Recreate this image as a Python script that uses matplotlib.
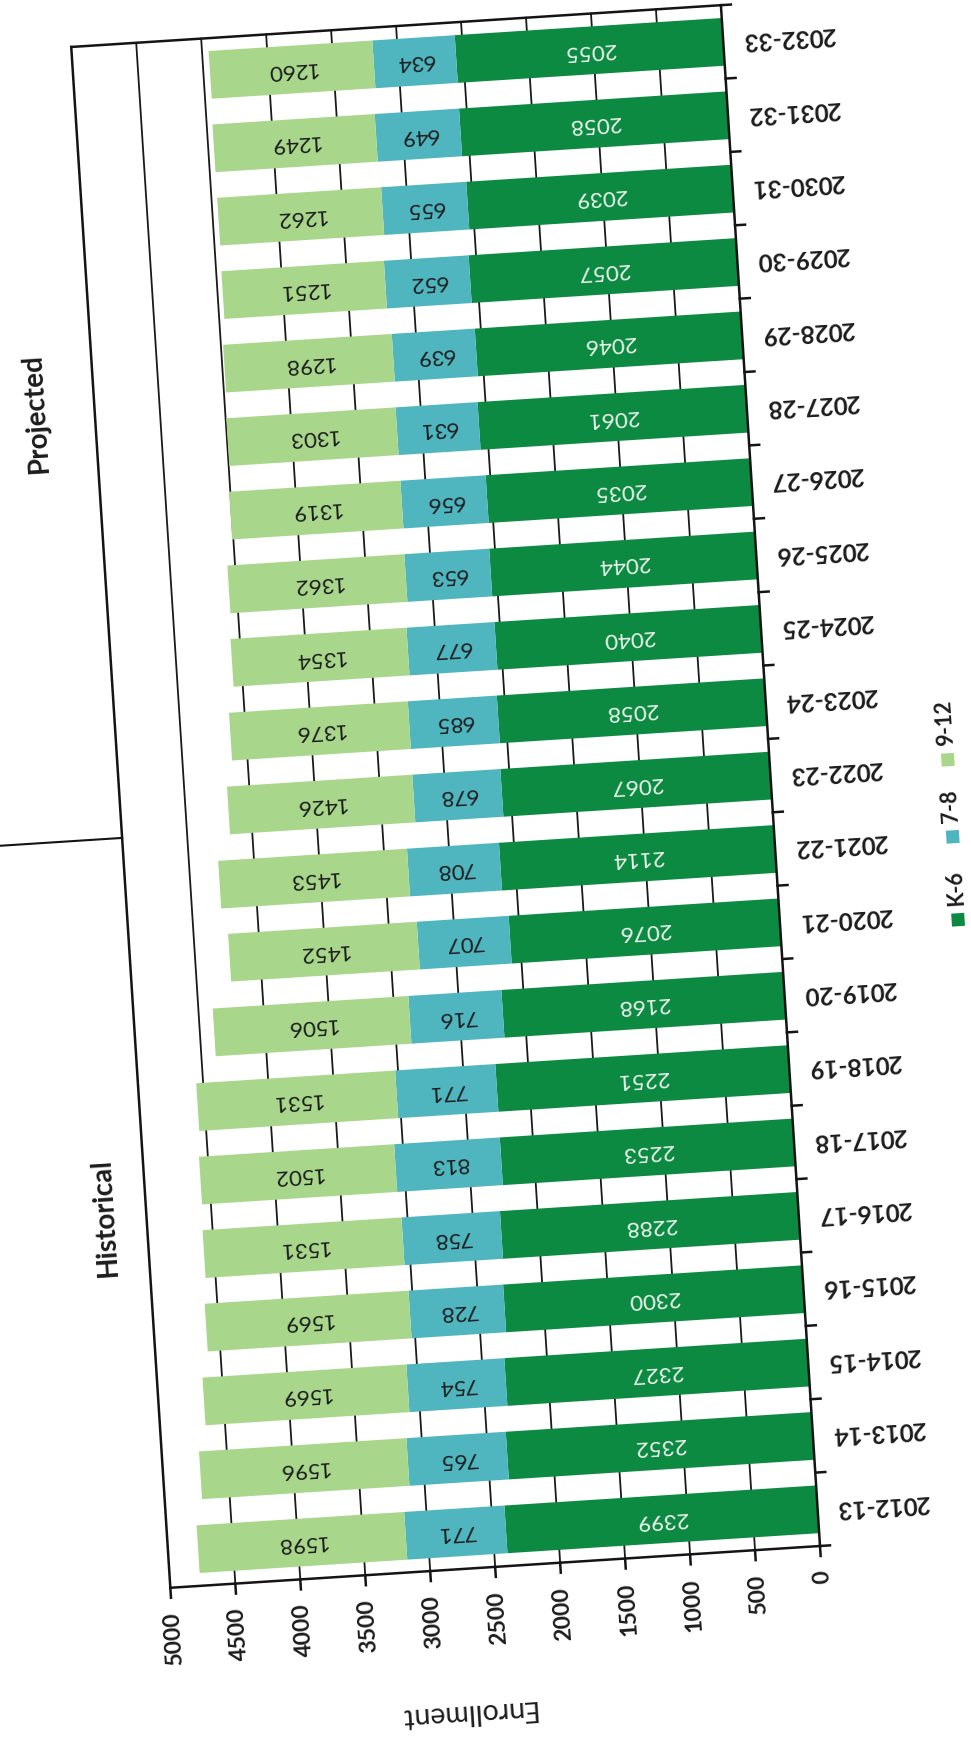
import matplotlib
matplotlib.use("Agg")
import matplotlib.pyplot as plt
from matplotlib.transforms import Affine2D
from matplotlib.patches import Rectangle

# ---- data -------------------------------------------------------------
years = ["2012-13", "2013-14", "2014-15", "2015-16", "2016-17", "2017-18",
         "2018-19", "2019-20", "2020-21", "2021-22", "2022-23", "2023-24",
         "2024-25", "2025-26", "2026-27", "2027-28", "2028-29", "2029-30",
         "2030-31", "2031-32", "2032-33"]
k6 = [2399, 2352, 2327, 2300, 2288, 2253, 2251, 2168, 2076, 2114, 2067,
      2058, 2040, 2044, 2035, 2061, 2046, 2057, 2039, 2058, 2055]
g78 = [771, 765, 754, 728, 758, 813, 771, 716, 707, 708, 678,
       685, 677, 653, 656, 631, 639, 652, 655, 649, 634]
g912 = [1598, 1596, 1569, 1569, 1531, 1502, 1531, 1506, 1452, 1453, 1426,
        1376, 1354, 1362, 1319, 1303, 1298, 1251, 1262, 1249, 1260]
series_names = ["K-6", "7-8", "9-12"]
value_ticks = list(range(0, 5001, 500))

# ---- style ------------------------------------------------------------
COL_K6 = "#0d8a42"
COL_78 = "#4fb5bf"
COL_912 = "#a8d78b"
TXT_DARK = "#1c1c1c"
TXT_LIGHT = "#eef8f0"
FONT = "Lato"
TILT = 3.68          # the whole sheet sits slightly turned
W, H, DPI = 971, 1742, 100

fig = plt.figure(figsize=(W / DPI, H / DPI), dpi=DPI)
fig.patch.set_facecolor("white")

# plot area (before tilting), in pixels
ax_left, ax_bottom, ax_w, ax_h = 169, 196, 651, 1544
ax = fig.add_axes([ax_left / W, ax_bottom / H, ax_w / W, ax_h / H])
ax.axis("off")

VMAX = 5000
ax.set_xlim(VMAX, 0)
ax.set_ylim(-0.5, len(years) - 0.5)

sx = ax_w / VMAX              # pixels per enrollment unit
sy = ax_h / len(years)        # pixels per category

px, py = ax.transAxes.transform((1, 0))
T = ax.transData + Affine2D().rotate_deg_around(px, py, TILT)

ypos = list(range(len(years)))
top = len(years) - 0.5

# gridlines (drawn first, under the bars)
for v in value_ticks[1:-1]:
    ax.plot([v, v], [-0.5, top], color="#1a1a1a", lw=1.3,
            transform=T, clip_on=False, zorder=1)

# stacked bars
bar_h = 0.65
left78 = k6
left912 = [a + b for a, b in zip(k6, g78)]
b1 = ax.barh(ypos, k6, height=bar_h, left=0, color=COL_K6, zorder=2)
b2 = ax.barh(ypos, g78, height=bar_h, left=left78, color=COL_78, zorder=2)
b3 = ax.barh(ypos, g912, height=bar_h, left=left912, color=COL_912, zorder=2)
for cont in (b1, b2, b3):
    for p in cont:
        p.set_transform(T)
        p.set_clip_on(False)

ax.set_xlim(VMAX, 0)
ax.set_ylim(-0.5, top)

# value labels inside segments
rot_flip = 180 + TILT
for i in ypos:
    segs = [(0, k6[i], TXT_LIGHT), (left78[i], g78[i], TXT_DARK),
            (left912[i], g912[i], TXT_DARK)]
    for start, val, col in segs:
        ax.text(start + val / 2, i, f"{val}", transform=T, rotation=rot_flip,
                rotation_mode="anchor", ha="center", va="center",
                fontsize=16, family=FONT, color=col, zorder=4, clip_on=False)

# frame: left edge, top edge, value axis and category axis
line_kw = dict(color="#141414", lw=1.8, transform=T, clip_on=False, zorder=5)
ax.plot([VMAX, VMAX], [-0.5, top], **line_kw)
ax.plot([VMAX, 0], [top, top], **line_kw)
ax.plot([0, 0], [-0.5, top], **line_kw)
ax.plot([VMAX, 0], [-0.5, -0.5], **line_kw)

# ticks on the category axis (at boundaries) and on the value axis
tick_len = 10
for b in [k - 0.5 for k in range(len(years) + 1)]:
    ax.plot([0, -tick_len / sx], [b, b], **line_kw)
for v in value_ticks:
    ax.plot([v, v], [-0.5, -0.5 - tick_len / sy], **line_kw)

# value tick labels
for v in value_ticks:
    ax.text(v, -0.5 - 24 / sy, f"{v}", transform=T, rotation=90 + TILT,
            rotation_mode="anchor", ha="right", va="center",
            fontsize=16.5, fontweight="bold", family=FONT, color=TXT_DARK,
            clip_on=False)

# category labels
for i, yr in enumerate(years):
    ax.text(-66 / sx, i, yr, transform=T, rotation=rot_flip,
            rotation_mode="anchor", ha="center", va="center",
            fontsize=17.5, fontweight="bold", family=FONT, color=TXT_DARK,
            clip_on=False)

# axis title
ax.text(363 / sx, -0.5 - 143 / sy, "Enrollment", transform=T,
        rotation=rot_flip, rotation_mode="anchor", ha="center", va="center",
        fontsize=20.5, family=FONT, color=TXT_DARK, clip_on=False)

# period annotations and the divider between them
ax.text(5318, 4.59, "Historical", transform=T, rotation=90 + TILT,
        rotation_mode="anchor", ha="center", va="center", fontsize=20,
        fontweight="bold", family=FONT, color=TXT_DARK, clip_on=False)
ax.text(5451, 15.56, "Projected", transform=T, rotation=90 + TILT,
        rotation_mode="anchor", ha="center", va="center", fontsize=20,
        fontweight="bold", family=FONT, color=TXT_DARK, clip_on=False)
ax.plot([VMAX, VMAX + 200 / sx], [9.72, 9.72], color="#141414", lw=1.5,
        transform=T, clip_on=False, zorder=5)

# legend
sq = 13
leg_x = -178 / sx
for name, col, c in zip(series_names, [COL_K6, COL_78, COL_912],
                        [7.88, 9.01, 10.06]):
    ax.add_patch(Rectangle((leg_x + sq / 2 / sx, c - sq / 2 / sy),
                           -sq / sx, sq / sy, facecolor=col, edgecolor="none",
                           transform=T, clip_on=False))
    ax.text(leg_x, c + 14 / sy, name, transform=T, rotation=90 + TILT,
            rotation_mode="anchor", ha="left", va="center", fontsize=15.5,
            fontweight="bold", family=FONT, color=TXT_DARK, clip_on=False)

fig.savefig("out.png", dpi=DPI, facecolor="white")
